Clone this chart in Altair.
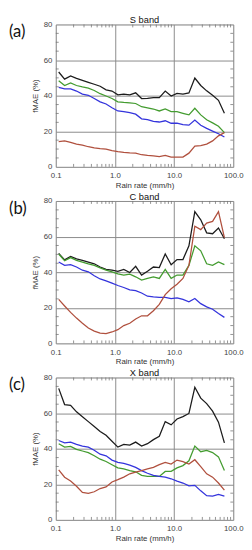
import altair as alt
import pandas as pd
import numpy as np

# rain rate sample points (mm/h), log spaced
rain = [0.112, 0.141, 0.178, 0.224, 0.282, 0.355, 0.447, 0.562, 0.708, 0.891,
        1.12, 1.41, 1.78, 2.24, 2.82, 3.55, 4.47, 5.62, 7.08, 8.91,
        11.2, 14.1, 17.8, 22.4, 28.2, 35.5, 44.7, 56.2, 70.8]

s_black = [53.3, 49.3, 51.1, 49.7, 48.6, 47.5, 46.4, 45.3, 43.3, 42.6, 40.5, 40.9, 40.5, 41.6, 38.4,
           38.5, 38.9, 38.9, 42.6, 39.8, 41.3, 40.9, 41.5, 49.9, 45.7, 42.7, 40.2, 37.4, 30.1]
s_green = [48.4, 45.7, 47.1, 45.7, 44.9, 44.2, 42.9, 41.1, 39.8, 38.4, 36.5, 36.2, 36.0, 35.6, 33.8,
           33.2, 32.5, 31.4, 32.5, 31.0, 31.0, 30.1, 29.2, 32.9, 29.2, 26.5, 24.7, 22.8, 19.2]
s_blue = [44.7, 43.8, 43.8, 42.6, 40.9, 40.2, 38.4, 36.5, 35.3, 33.2, 31.4, 31.0, 30.5, 29.6, 27.0,
          26.5, 25.6, 25.2, 25.9, 24.5, 24.5, 23.7, 23.4, 26.3, 23.4, 21.6, 20.1, 18.6, 16.8]
s_red = [14.2, 14.6, 13.7, 12.8, 12.2, 11.3, 10.6, 10.2, 9.9, 9.1, 8.6, 8.2, 7.9, 7.7, 6.8,
         6.4, 6.2, 5.8, 6.4, 5.5, 5.5, 5.5, 7.7, 11.7, 11.9, 12.8, 14.6, 17.4, 19.2]

c_black = [50.6, 46.9, 48.9, 47.5, 46.6, 45.7, 44.7, 42.9, 41.6, 41.1, 40.5, 41.6, 39.8, 43.3, 38.4,
           40.5, 42.9, 42.6, 50.2, 44.2, 47.1, 47.1, 54.8, 74.0, 69.4, 62.1, 61.6, 64.8, 58.8]
c_green = [50.2, 46.4, 48.2, 46.6, 45.7, 44.7, 43.8, 42.4, 41.1, 40.2, 39.1, 38.4, 38.9, 37.4, 35.6,
           36.5, 37.4, 36.5, 41.6, 36.5, 38.4, 38.4, 43.8, 54.8, 52.0, 44.7, 43.8, 45.7, 44.2]
c_blue = [45.7, 43.8, 44.2, 42.9, 41.1, 40.2, 38.0, 36.2, 35.1, 33.8, 32.5, 31.4, 30.1, 29.6, 28.3,
          26.5, 26.1, 25.9, 25.9, 25.2, 25.6, 24.7, 23.4, 25.2, 22.3, 20.5, 19.2, 16.8, 14.6]
c_red = [24.7, 21.0, 17.4, 14.2, 11.3, 8.6, 6.9, 5.8, 5.5, 6.4, 7.7, 10.0, 11.3, 13.7, 15.5,
         15.5, 18.3, 21.9, 27.4, 30.7, 33.2, 36.5, 43.8, 65.8, 63.9, 67.6, 68.5, 74.0, 59.4]

x_black = [73.9, 64.8, 64.4, 60.7, 58.0, 55.2, 52.5, 49.7, 47.5, 44.2, 40.9, 42.4, 42.0, 43.7, 41.5,
           42.8, 45.1, 47.0, 55.2, 53.4, 56.7, 58.0, 59.8, 74.5, 68.4, 65.3, 61.1, 54.9, 43.3]
x_green = [42.8, 40.9, 41.3, 39.6, 38.7, 37.8, 36.0, 34.1, 32.8, 31.0, 29.2, 28.6, 27.7, 27.0, 25.0,
           24.4, 24.4, 24.4, 27.2, 27.3, 29.2, 30.5, 33.2, 41.5, 38.3, 39.1, 37.8, 35.4, 27.7]
x_blue = [44.6, 43.3, 43.7, 42.4, 41.5, 40.9, 39.1, 36.9, 36.0, 33.6, 32.3, 31.7, 30.8, 29.5, 27.7,
          26.2, 25.0, 24.4, 24.0, 23.1, 21.8, 20.7, 19.1, 19.4, 16.3, 13.6, 13.4, 14.3, 13.4]
x_red = [28.1, 24.0, 21.8, 18.9, 15.4, 14.9, 15.8, 17.6, 18.5, 21.3, 22.6, 24.0, 25.9, 26.8, 27.7,
         28.6, 29.5, 31.0, 32.3, 31.4, 33.6, 32.7, 31.4, 33.8, 29.9, 25.9, 24.0, 20.7, 16.7]

series_names = ["black", "green", "blue", "red"]
series_colors = ["#1c1c1c", "#449c30", "#3434dc", "#b0503e"]

panels = [
    ("S band", "(a)", [s_black, s_green, s_blue, s_red]),
    ("C band", "(b)", [c_black, c_green, c_blue, c_red]),
    ("X band", "(c)", [x_black, x_green, x_blue, x_red]),
]

x_ticks = [0.1, 1, 10, 100]
y_ticks = [0, 20, 40, 60, 80]
x_minor = [m * d for d in (0.1, 1, 10) for m in range(2, 10)]
y_minor = [v for v in range(5, 80, 5) if v % 20 != 0]

W, H = 182, 146
FONT = "Liberation Sans"

xscale = alt.Scale(type="log", domain=[0.1, 100], nice=False)
yscale = alt.Scale(domain=[0, 80], nice=False)

x_axis = alt.Axis(title="Rain rate (mm/h)", values=x_ticks, format=".1f",
                  grid=True, gridColor="#8a8a8a", gridWidth=1,
                  ticks=False, domain=False, labelFontSize=8, labelColor="#444",
                  labelFont=FONT, titleFont=FONT, titleFontSize=8,
                  titleFontWeight="normal", titleColor="#333",
                  labelPadding=5, titlePadding=2, labelFlush=False)
y_axis = alt.Axis(title="fMAE (%)", values=y_ticks,
                  grid=True, gridColor="#8a8a8a", gridWidth=1,
                  ticks=False, domain=False, labelFontSize=8, labelColor="#444",
                  labelFont=FONT, titleFont=FONT, titleFontSize=8,
                  titleFontWeight="normal", titleColor="#333",
                  labelPadding=4, titlePadding=4)


def panel(title, tag, values):
    rows = []
    for name, vals in zip(series_names, values):
        for r, v in zip(rain, vals):
            rows.append({"rain": r, "fmae": v, "series": name})
    df = pd.DataFrame(rows)

    lines = alt.Chart(df).mark_line(strokeWidth=1.3, clip=True).encode(
        x=alt.X("rain:Q", scale=xscale, axis=x_axis),
        y=alt.Y("fmae:Q", scale=yscale, axis=y_axis),
        color=alt.Color("series:N", scale=alt.Scale(domain=series_names, range=series_colors),
                        legend=None),
        detail="series:N",
    )

    xm = pd.DataFrame({"rain": x_minor})
    ym = pd.DataFrame({"fmae": y_minor})
    tick_col = "#777"
    xb = alt.Chart(xm).mark_rule(color=tick_col, strokeWidth=0.8).encode(
        x=alt.X("rain:Q", scale=xscale, axis=x_axis), y=alt.value(H), y2=alt.value(H - 3))
    xt = alt.Chart(xm).mark_rule(color=tick_col, strokeWidth=0.8).encode(
        x=alt.X("rain:Q", scale=xscale, axis=x_axis), y=alt.value(0), y2=alt.value(3))
    yl = alt.Chart(ym).mark_rule(color=tick_col, strokeWidth=0.8).encode(
        y=alt.Y("fmae:Q", scale=yscale, axis=y_axis), x=alt.value(0), x2=alt.value(3))
    yr = alt.Chart(ym).mark_rule(color=tick_col, strokeWidth=0.8).encode(
        y=alt.Y("fmae:Q", scale=yscale, axis=y_axis), x=alt.value(W), x2=alt.value(W - 3))

    label = alt.Chart(pd.DataFrame({"t": [tag]})).mark_text(
        align="left", baseline="middle", fontSize=17, font="Lato", color="#111"
    ).encode(text="t:N", x=alt.value(-48), y=alt.value(8))

    ttl = alt.Chart(pd.DataFrame({"t": [title]})).mark_text(
        align="center", baseline="middle", fontSize=9.5, font=FONT, color="#111"
    ).encode(text="t:N", x=alt.value(W / 2), y=alt.value(-4.5))

    return alt.layer(lines, xb, xt, yl, yr, label, ttl).properties(width=W, height=H)


chart = alt.vconcat(*[panel(*p) for p in panels], spacing=1).configure_view(
    stroke="#8a8a8a", strokeWidth=1
).configure(padding=0, background="white")

chart.save("out.html", embed_options={"renderer": "svg", "actions": False})
